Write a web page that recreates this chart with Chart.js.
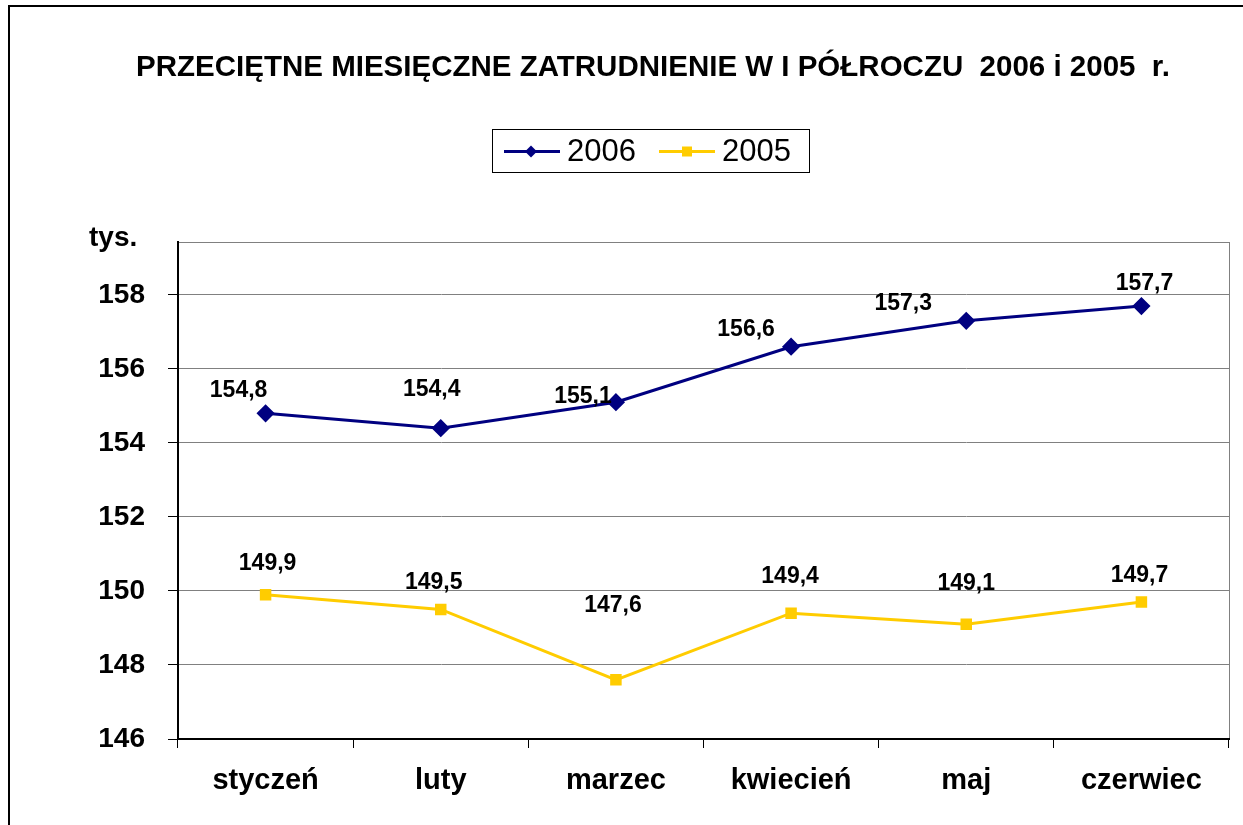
<!DOCTYPE html>
<html>
<head>
<meta charset="utf-8">
<script src="https://cdn.jsdelivr.net/npm/chart.js@4"></script>
<style>
  html, body { margin: 0; padding: 0; background: #fff; }
  #wrap { width: 1243px; height: 825px; position: relative; }
</style>
</head>
<body>
<div id="wrap"><canvas id="wykres"></canvas></div>
<script>
// dane
const miesiace = ['styczeń', 'luty', 'marzec', 'kwiecień', 'maj', 'czerwiec'];
const rok2006 = [154.8, 154.4, 155.1, 156.6, 157.3, 157.7];
const rok2005 = [149.9, 149.5, 147.6, 149.4, 149.1, 149.7];
const etykietyOsiY = [146, 148, 150, 152, 154, 156, 158];

const tytul = 'PRZECIĘTNE MIESIĘCZNE ZATRUDNIENIE W I PÓŁROCZU  2006 i 2005  r.';
const jednostka = 'tys.';

// przesunięcia etykiet wartości (jak w oryginale)
const przes2006 = [[-27, -23], [-9, -38], [-33, -6], [-45, -17], [-63, -17], [3, -22]];
const przes2005 = [[2, -31], [-7, -27], [-3, -74], [-1, -37], [0, -41], [-2, -26]];

const FONT = '"Liberation Sans", Arial, sans-serif';

const ramkaIOpisy = {
    id: 'ramkaIOpisy',
    beforeDraw(chart) {
        const c = chart.ctx;
        const a = chart.chartArea;
        c.save();
        // ramka całego wykresu
        c.strokeStyle = '#000';
        c.lineWidth = 2;
        c.strokeRect(9, 6, 1260, 850);
        // ramka obszaru wykresu
        c.strokeStyle = '#808080';
        c.lineWidth = 1;
        c.strokeRect(a.left + 0.5, a.top + 0.5, a.right - a.left, a.bottom - a.top);
        c.restore();
    },
    afterDraw(chart) {
        const c = chart.ctx;
        c.save();
        // tytuł
        c.fillStyle = '#000';
        c.font = 'bold 29.5px ' + FONT;
        c.textAlign = 'center';
        c.textBaseline = 'middle';
        c.fillText(tytul, 653, 68);

        // jednostka
        c.font = 'bold 28px ' + FONT;
        c.textAlign = 'left';
        c.fillText(jednostka, 89, 238);

        // legenda
        const lx = 492, ly = 129, lw = 317, lh = 43;
        c.strokeStyle = '#000';
        c.lineWidth = 1;
        c.strokeRect(lx + 0.5, ly + 0.5, lw, lh);
        const ds = chart.data.datasets;
        const poz = [504, 659];
        ds.forEach((d, i) => {
            const x0 = poz[i], cy = ly + lh / 2 + 1;
            c.strokeStyle = d.borderColor;
            c.lineWidth = 3;
            c.beginPath();
            c.moveTo(x0, cy);
            c.lineTo(x0 + 56, cy);
            c.stroke();
            c.fillStyle = d.borderColor;
            c.beginPath();
            if (d.pointStyle === 'rectRot') {
                c.moveTo(x0 + 27, cy - 6);
                c.lineTo(x0 + 33, cy);
                c.lineTo(x0 + 27, cy + 6);
                c.lineTo(x0 + 21, cy);
                c.closePath();
            } else {
                c.rect(x0 + 23, cy - 5, 10, 10);
            }
            c.fill();
            c.fillStyle = '#000';
            c.font = '31px ' + FONT;
            c.textAlign = 'left';
            c.textBaseline = 'middle';
            c.fillText(d.label, x0 + 63, cy + 1);
        });

        // etykiety wartości
        c.font = 'bold 23px ' + FONT;
        c.textAlign = 'center';
        c.textBaseline = 'middle';
        c.fillStyle = '#000';
        const przes = [przes2006, przes2005];
        ds.forEach((d, i) => {
            const meta = chart.getDatasetMeta(i);
            meta.data.forEach((p, j) => {
                const t = d.data[j].toFixed(1).replace('.', ',');
                c.fillText(t, p.x + przes[i][j][0], p.y + przes[i][j][1]);
            });
        });
        c.restore();
    }
};

const ctx = document.getElementById('wykres').getContext('2d');

new Chart(ctx, {
    type: 'line',
    data: {
        labels: miesiace,
        datasets: [{
            label: '2006',
            data: rok2006,
            borderColor: '#000080',
            backgroundColor: '#000080',
            borderWidth: 3,
            pointStyle: 'rectRot',
            pointRadius: 7,
            pointHoverRadius: 7,
            tension: 0
        }, {
            label: '2005',
            data: rok2005,
            borderColor: '#FFCC00',
            backgroundColor: '#FFCC00',
            borderWidth: 3,
            pointStyle: 'rect',
            pointRadius: 6,
            pointHoverRadius: 6,
            tension: 0
        }]
    },
    options: {
        responsive: true,
        maintainAspectRatio: false,
        animation: false,
        layout: { padding: { top: 242, right: 14, left: 0, bottom: 0 } },
        plugins: {
            legend: { display: false },
            title: { display: false },
            tooltip: { enabled: false }
        },
        scales: {
            x: {
                offset: true,
                grid: {
                    offset: true,
                    drawOnChartArea: false,
                    drawTicks: true,
                    tickLength: 9,
                    tickColor: '#000'
                },
                border: { color: '#000', width: 2 },
                ticks: {
                    color: '#000',
                    font: { family: FONT, size: 29, weight: 'bold' },
                    padding: 16,
                    maxRotation: 0
                },
                afterFit(scale) { scale.height = 825 - 739; }
            },
            y: {
                min: 146,
                max: 159.43,
                afterBuildTicks(scale) {
                    scale.ticks = etykietyOsiY.map(v => ({ value: v }));
                },
                grid: {
                    color: '#808080',
                    lineWidth: 1,
                    drawTicks: true,
                    tickLength: 10,
                    tickColor: '#000'
                },
                border: { color: '#000', width: 2 },
                ticks: {
                    color: '#000',
                    font: { family: FONT, size: 28, weight: 'bold' },
                    padding: 23
                },
                afterFit(scale) { scale.width = 178; }
            }
        }
    },
    plugins: [ramkaIOpisy]
});
</script>
</body>
</html>
